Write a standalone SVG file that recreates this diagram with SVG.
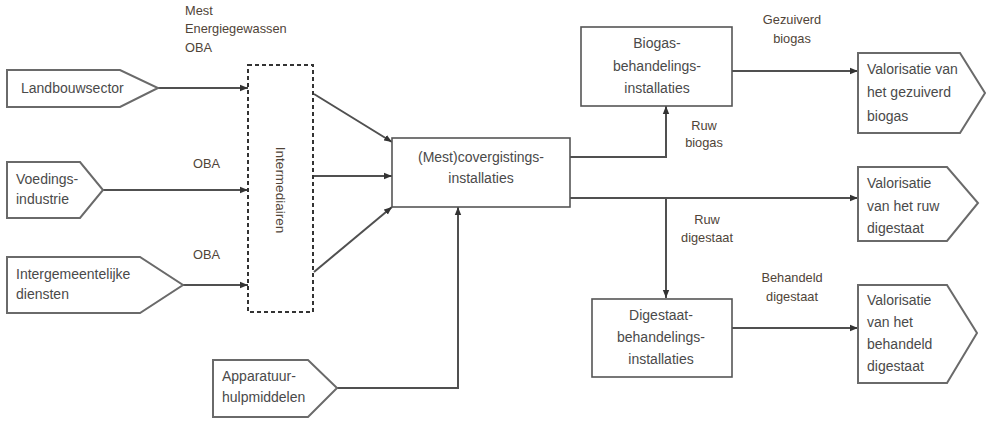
<svg xmlns="http://www.w3.org/2000/svg" width="994" height="421" viewBox="0 0 994 421">
<style>
.bg{fill:#ffffff}
.shape{fill:#ffffff;stroke:#6a6a6a;stroke-width:2}
.box{fill:#ffffff;stroke:#555555;stroke-width:1.6}
.dash{fill:none;stroke:#333333;stroke-width:2;stroke-dasharray:4 3}
.conn{fill:none;stroke:#505050;stroke-width:2}
.nt{font-family:"Liberation Sans",Arial,sans-serif;font-size:14px;fill:#4a4a4a}
.lb{font-family:"Liberation Sans",Arial,sans-serif;font-size:12.8px;fill:#504438}
.c{text-anchor:middle}
</style>
<defs>
<marker id="ah" markerUnits="userSpaceOnUse" markerWidth="8" markerHeight="8" viewBox="0 0 8 8" refX="8" refY="4" orient="auto">
<path d="M0,0.8 L8,4 L0,7.2 Z" fill="#333333"/>
</marker>
</defs>
<rect class="bg" x="0" y="0" width="994" height="421"/>

<g id="connectors">
<path class="conn" d="M158,88 H248" marker-end="url(#ah)"/>
<path class="conn" d="M103,190 H248" marker-end="url(#ah)"/>
<path class="conn" d="M183,285 H248" marker-end="url(#ah)"/>
<path class="conn" d="M314,94 L392,142" marker-end="url(#ah)"/>
<path class="conn" d="M314,176 H392" marker-end="url(#ah)"/>
<path class="conn" d="M314,272 L392,207" marker-end="url(#ah)"/>
<path class="conn" d="M337,388 H458 V207" marker-end="url(#ah)"/>
<path class="conn" d="M570,157 H666 V106" marker-end="url(#ah)"/>
<path class="conn" d="M732,71 H858" marker-end="url(#ah)"/>
<path class="conn" d="M570,198 H858" marker-end="url(#ah)"/>
<path class="conn" d="M666,198 V298" marker-end="url(#ah)"/>
<path class="conn" d="M732,328 H858" marker-end="url(#ah)"/>
</g>

<g id="labels">
<text class="lb" x="185" y="15">Mest</text>
<text class="lb" x="185" y="33">Energiegewassen</text>
<text class="lb" x="185" y="52">OBA</text>
<text class="lb" x="193" y="168">OBA</text>
<text class="lb" x="193" y="259">OBA</text>
<text class="lb c" x="704" y="130">Ruw</text>
<text class="lb c" x="704" y="147">biogas</text>
<text class="lb c" x="792" y="24">Gezuiverd</text>
<text class="lb c" x="792" y="43">biogas</text>
<text class="lb c" x="707" y="224">Ruw</text>
<text class="lb c" x="707" y="242">digestaat</text>
<text class="lb c" x="792" y="282">Behandeld</text>
<text class="lb c" x="792" y="301">digestaat</text>
</g>

<g id="landbouwsector">
<path class="shape" d="M7,70 H120 L158,88 L120,107 H7 Z"/>
<text class="nt" x="21" y="93">Landbouwsector</text>
</g>

<g id="voedingsindustrie">
<path class="shape" d="M7,162 H80 L103,190 L80,218 H7 Z"/>
<text class="nt" x="16" y="184">Voedings-</text>
<text class="nt" x="16" y="204">industrie</text>
</g>

<g id="intergemeentelijke-diensten">
<path class="shape" d="M7,257 H140 L183,285 L140,313 H7 Z"/>
<text class="nt" x="16" y="279">Intergemeentelijke</text>
<text class="nt" x="16" y="299">diensten</text>
</g>

<g id="intermediairen">
<rect class="dash" x="248" y="65" width="65" height="247"/>
<text class="lb c" style="font-size:13.5px" transform="translate(276,190) rotate(90)">Intermediairen</text>
</g>

<g id="apparatuur">
<path class="shape" d="M213,360 H308 L337,388 L308,417 H213 Z"/>
<text class="nt" x="222" y="381">Apparatuur-</text>
<text class="nt" x="222" y="402">hulpmiddelen</text>
</g>

<g id="covergisting">
<rect class="box" x="392" y="138" width="178" height="69"/>
<text class="nt c" x="481" y="162">(Mest)covergistings-</text>
<text class="nt c" x="481" y="183">installaties</text>
</g>

<g id="biogas-behandeling">
<rect class="box" x="581" y="27" width="151" height="79"/>
<text class="nt c" x="657" y="48">Biogas-</text>
<text class="nt c" x="657" y="71">behandelings-</text>
<text class="nt c" x="657" y="93">installaties</text>
</g>

<g id="digestaat-behandeling">
<rect class="box" x="592" y="299" width="140" height="78"/>
<text class="nt c" x="661" y="320">Digestaat-</text>
<text class="nt c" x="661" y="342">behandelings-</text>
<text class="nt c" x="661" y="364">installaties</text>
</g>

<g id="valorisatie-biogas">
<path class="shape" d="M858,53 H960 L985,93 L960,133 H858 Z"/>
<text class="nt" x="867" y="74">Valorisatie van</text>
<text class="nt" x="867" y="97">het gezuiverd</text>
<text class="nt" x="867" y="121">biogas</text>
</g>

<g id="valorisatie-ruw">
<path class="shape" d="M858,167 H947 L978,203 L947,241 H858 Z"/>
<text class="nt" x="867" y="188">Valorisatie</text>
<text class="nt" x="867" y="211">van het ruw</text>
<text class="nt" x="867" y="233">digestaat</text>
</g>

<g id="valorisatie-behandeld">
<path class="shape" d="M858,285 H947 L977,333 L947,383 H858 Z"/>
<text class="nt" x="867" y="305">Valorisatie</text>
<text class="nt" x="867" y="327">van het</text>
<text class="nt" x="867" y="349">behandeld</text>
<text class="nt" x="867" y="371">digestaat</text>
</g>
</svg>
